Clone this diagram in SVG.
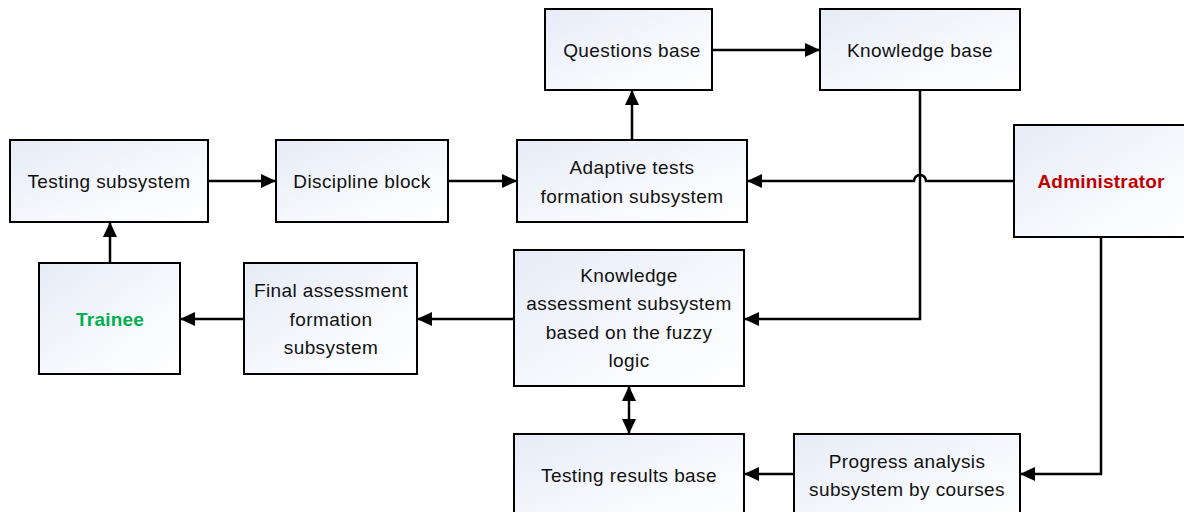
<svg xmlns="http://www.w3.org/2000/svg" width="1184" height="512" viewBox="0 0 1184 512">
<defs>
<linearGradient id="g" x1="0" y1="0" x2="1" y2="1">
<stop offset="0" stop-color="#e6ebf6"/>
<stop offset="0.6" stop-color="#f7f9fd"/>
<stop offset="1" stop-color="#ffffff"/>
</linearGradient>
<marker id="a" viewBox="0 0 15 14" refX="15" refY="7" markerWidth="15" markerHeight="14" markerUnits="userSpaceOnUse" orient="auto-start-reverse">
<path d="M0,0 L15,7 L0,14 Z" fill="#000"/>
</marker>
<style>
.box{fill:url(#g);stroke:#000;stroke-width:2}
.t{font-family:"Liberation Sans",Arial,sans-serif;font-size:19px;letter-spacing:0.4px;fill:#111;text-anchor:middle}
.b{font-weight:bold;letter-spacing:0.2px}
.c{fill:none;stroke:#000;stroke-width:2.5}
</style>
</defs>
<rect width="1184" height="512" fill="#fff"/>
<g id="connectors">
<path class="c" d="M712,50 H820" marker-end="url(#a)"/>
<path class="c" d="M632,140 V90" marker-end="url(#a)"/>
<path class="c" d="M208,181 H276" marker-end="url(#a)"/>
<path class="c" d="M448,181 H517" marker-end="url(#a)"/>
<path class="c" d="M1014,181 H926 A6,6 0 0 0 914,181 H747" marker-end="url(#a)"/>
<path class="c" d="M920,90 V319 H744" marker-end="url(#a)"/>
<path class="c" d="M110,263 V222" marker-end="url(#a)"/>
<path class="c" d="M244,319 H180" marker-end="url(#a)"/>
<path class="c" d="M514,319 H417" marker-end="url(#a)"/>
<path class="c" d="M629,386 V434" marker-start="url(#a)" marker-end="url(#a)"/>
<path class="c" d="M1101,237 V474 H1020" marker-end="url(#a)"/>
<path class="c" d="M794,474 H744" marker-end="url(#a)"/>
</g>
<g id="questions-base">
<rect class="box" x="545" y="9" width="167" height="81"/>
<text class="t" x="632" y="57">Questions base</text>
</g>
<g id="knowledge-base">
<rect class="box" x="820" y="9" width="200" height="81"/>
<text class="t" x="920" y="57">Knowledge base</text>
</g>
<g id="testing-subsystem">
<rect class="box" x="10" y="140" width="198" height="82"/>
<text class="t" x="109" y="188">Testing subsystem</text>
</g>
<g id="discipline-block">
<rect class="box" x="276" y="140" width="172" height="82"/>
<text class="t" x="362" y="188">Discipline block</text>
</g>
<g id="adaptive-tests">
<rect class="box" x="517" y="140" width="230" height="82"/>
<text class="t" x="632" y="174">Adaptive tests</text>
<text class="t" x="632" y="203">formation subsystem</text>
</g>
<g id="administrator">
<rect class="box" x="1014" y="125" width="180" height="112"/>
<text class="t b" x="1101" y="188" style="fill:#c00000">Administrator</text>
</g>
<g id="trainee">
<rect class="box" x="39" y="263" width="141" height="111"/>
<text class="t b" x="110" y="326" style="fill:#00b050">Trainee</text>
</g>
<g id="final-assessment">
<rect class="box" x="244" y="263" width="173" height="111"/>
<text class="t" x="331" y="297">Final assessment</text>
<text class="t" x="331" y="326">formation</text>
<text class="t" x="331" y="354">subsystem</text>
</g>
<g id="knowledge-assessment">
<rect class="box" x="514" y="250" width="230" height="136"/>
<text class="t" x="629" y="282">Knowledge</text>
<text class="t" x="629" y="310">assessment subsystem</text>
<text class="t" x="629" y="339">based on the fuzzy</text>
<text class="t" x="629" y="367">logic</text>
</g>
<g id="testing-results-base">
<rect class="box" x="514" y="434" width="230" height="90"/>
<text class="t" x="629" y="482">Testing results base</text>
</g>
<g id="progress-analysis">
<rect class="box" x="794" y="434" width="226" height="90"/>
<text class="t" x="907" y="468">Progress analysis</text>
<text class="t" x="907" y="496">subsystem by courses</text>
</g>
</svg>
